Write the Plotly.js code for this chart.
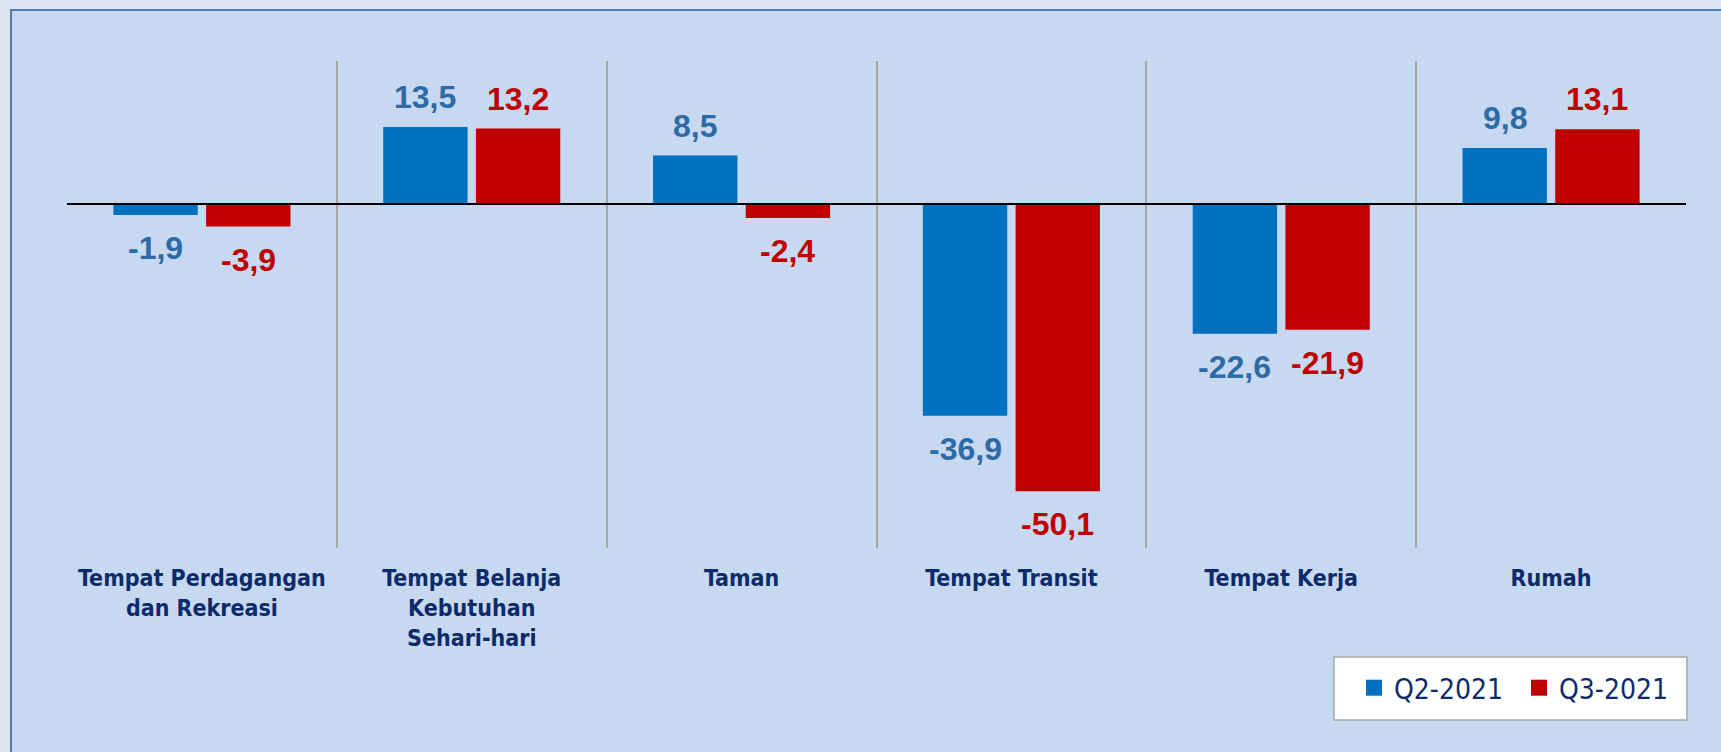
<!DOCTYPE html>
<html>
<head>
<meta charset="utf-8">
<script src="https://cdn.plot.ly/plotly-3.0.1.min.js"></script>
<style>
  html, body { margin: 0; padding: 0; background: #DCE6F2; width: 1721px; height: 752px; overflow: hidden; }
  #panel { position: absolute; left: 10px; top: 9px; width: 1740px; height: 780px; background: #C6D9F0; border: 2px solid #4F7FB8; }
  #chart { position: absolute; left: 0; top: 0; width: 1721px; height: 752px; }
</style>
</head>
<body>
<div id="panel"></div>
<div id="chart"></div>
<script>
const categories = [
  "Tempat Perdagangan<br>dan Rekreasi",
  "Tempat Belanja<br>Kebutuhan<br>Sehari-hari",
  "Taman",
  "Tempat Transit",
  "Tempat Kerja",
  "Rumah"
];
const seriesNames = ["Q2-2021", "Q3-2021"];
const q2Values = [-1.9, 13.5, 8.5, -36.9, -22.6, 9.8];
const q3Values = [-3.9, 13.2, -2.4, -50.1, -21.9, 13.1];

const barColors = ["#0070C0", "#C00000"];
const labelColors = ["#2E6BA6", "#C00000"];
const navy = "#0D2B6B";
const narrowFont = "'Liberation Sans Narrow', 'Arial Narrow', 'DejaVu Sans Condensed', sans-serif";

const W = 1721, H = 752;
const margin = { l: 67, r: 35, t: 61, b: 204, pad: 0 };
const bargap = 0.313;
const bargroupgap = 0.09;

const seriesValues = [q2Values, q3Values];

const traces = seriesValues.map((vals, i) => ({
  type: "bar",
  name: seriesNames[i],
  x: categories,
  y: vals,
  marker: { color: barColors[i] },
  showlegend: false,
  hoverinfo: "skip"
}));

// legend entries (square symbols)
seriesNames.forEach((n, i) => {
  traces.push({
    type: "scatter",
    mode: "markers",
    name: n,
    x: [null],
    y: [null],
    marker: { symbol: "square", size: 17, color: barColors[i] },
    showlegend: true,
    hoverinfo: "skip"
  });
});

const plotW = W - margin.l - margin.r;
const plotH = H - margin.t - margin.b;
const catW = plotW / categories.length;
const offset = (1 - bargap) / 4 * catW;

const fmt = v => v.toFixed(1).replace(".", ",");
const annotations = [];
seriesValues.forEach((vals, i) => {
  vals.forEach((v, j) => {
    annotations.push({
      x: categories[j],
      y: v,
      xref: "x",
      yref: "y",
      text: fmt(v),
      showarrow: false,
      xanchor: "center",
      yanchor: "middle",
      xshift: (i === 0 ? -1 : 1) * offset,
      yshift: v >= 0 ? 30 : -33,
      font: { family: "'Liberation Sans', Arial, sans-serif", size: 32, color: labelColors[i], weight: "bold" }
    });
  });
});

// legend frame (pixel box converted to paper coords)
const px2x = px => (px - margin.l) / plotW;
const px2y = py => (H - margin.b - py) / plotH;
const shapes = [{
  type: "rect",
  xref: "paper", yref: "paper",
  x0: px2x(1334), x1: px2x(1687),
  y0: px2y(720), y1: px2y(657),
  fillcolor: "#FFFFFF",
  line: { color: "#A6A6A6", width: 1.5 },
  layer: "below"
}];

const layout = {
  width: W,
  height: H,
  margin: margin,
  paper_bgcolor: "rgba(0,0,0,0)",
  plot_bgcolor: "rgba(0,0,0,0)",
  barmode: "group",
  bargap: bargap,
  bargroupgap: bargroupgap,
  showlegend: true,
  legend: {
    orientation: "h",
    x: px2x(1354),
    xanchor: "left",
    y: px2y(688),
    yanchor: "middle",
    bgcolor: "rgba(0,0,0,0)",
    borderwidth: 0,
    font: { family: narrowFont, size: 28, color: navy },
    entrywidth: 120
  },
  xaxis: {
    type: "category",
    range: [-0.5, categories.length - 0.5],
    tickson: "boundaries",
    showgrid: true,
    gridcolor: "#A5A5A5",
    gridwidth: 2,
    ticks: "",
    tickangle: 0,
    showline: false,
    zeroline: false,
    tickfont: { family: narrowFont, size: 23, color: navy, weight: "bold" },
    ticklabelstandoff: 14,
    fixedrange: true
  },
  yaxis: {
    range: [-60, 25],
    showgrid: false,
    showticklabels: false,
    ticks: "",
    zeroline: true,
    zerolinecolor: "#000000",
    zerolinewidth: 2,
    zerolinelayer: "above traces",
    fixedrange: true
  },
  shapes: shapes,
  annotations: annotations
};

Plotly.newPlot("chart", traces, layout, { displayModeBar: false, staticPlot: true });
</script>
</body>
</html>
